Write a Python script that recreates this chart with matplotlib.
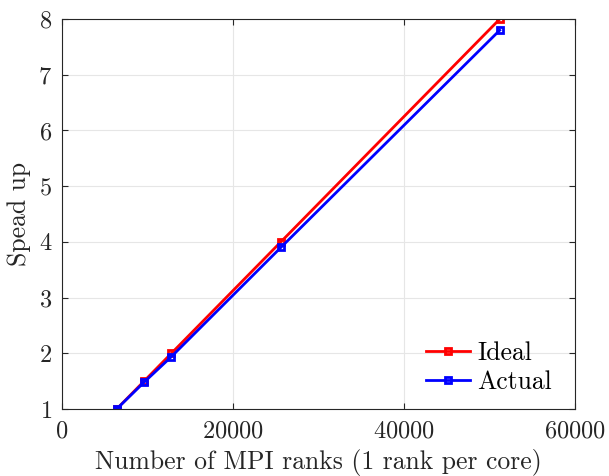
import matplotlib
matplotlib.use("Agg")
import matplotlib.pyplot as plt

ranks = [6400, 9600, 12800, 25600, 51200]
ideal = [1, 1.5, 2, 4, 8]
actual = [1, 1.48, 1.94, 3.9, 7.8]

plt.rcParams['font.family'] = 'cmr10'
plt.rcParams['mathtext.fontset'] = 'cm'
plt.rcParams['axes.formatter.use_mathtext'] = True

fig = plt.figure(figsize=(6.09, 4.76), dpi=100)
ax = fig.add_axes([0.1018, 0.1408, 0.8424, 0.8192])

ax.plot(ranks, ideal, '-s', color='#ff0000', lw=2, ms=4, mfc='none', mew=2, label='Ideal')
ax.plot(ranks, actual, '-s', color='#0000ff', lw=2, ms=4, mfc='none', mew=2, label='Actual')

ax.set_xlim(0, 60000)
ax.set_ylim(1, 8)
ax.set_xticks([0, 20000, 40000, 60000])
ax.set_yticks(range(1, 9))
ax.grid(True, color='#e6e6e6', lw=0.8)
ax.set_axisbelow(True)
for s in ax.spines.values():
    s.set_color('#262626')
    s.set_linewidth(0.8)
ax.tick_params(direction='in', top=True, right=True, color='#262626', length=4, width=0.8,
               labelcolor='#262626', labelsize=17.5)
ax.tick_params(axis='y', pad=7)
ax.tick_params(axis='x', pad=8)

ax.set_xlabel('Number of MPI ranks (1 rank per core)', fontsize=18.5, color='#262626', labelpad=5)
ax.set_ylabel('Spead up', fontsize=18.5, color='#262626', labelpad=5)

ax.legend(loc='lower right', frameon=False, handlelength=1.7, handletextpad=0.3,
          labelspacing=0.22, fontsize=18.5, bbox_to_anchor=(1.0, -0.022))

fig.savefig('out.png', dpi=100)
